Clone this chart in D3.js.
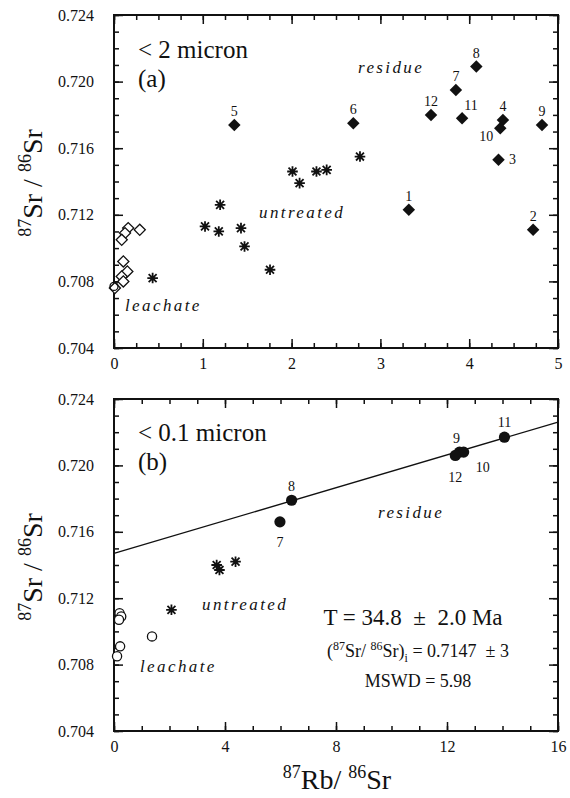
<!DOCTYPE html>
<html>
<head>
<meta charset="utf-8">
<script src="https://cdn.jsdelivr.net/npm/d3@7"></script>
<style>
  body { margin: 0; background: #fff; }
  svg text { font-family: 'Liberation Serif', 'Times New Roman', 'DejaVu Serif', serif; fill: #111; }
</style>
</head>
<body>
<div id="container"></div>
<script>
const width = 570,
  height = 798,
  left = 114,
  right = 558,
  serifFont = "'Liberation Serif', 'Times New Roman', 'DejaVu Serif', serif"

/* DATA */
// tick labels
const yTicks = [0.704, 0.708, 0.712, 0.716, 0.720, 0.724]
const aXTicks = [0, 1, 2, 3, 4, 5]
const bXTicks = [0, 4, 8, 12, 16]

// (a) < 2 micron
const aResidue = [
  { n: 1, x: 3.32, y: 0.7123 },
  { n: 2, x: 4.72, y: 0.7111 },
  { n: 3, x: 4.33, y: 0.7153 },
  { n: 4, x: 4.38, y: 0.7177 },
  { n: 5, x: 1.355, y: 0.7174 },
  { n: 6, x: 2.695, y: 0.7175 },
  { n: 7, x: 3.85, y: 0.7195 },
  { n: 8, x: 4.08, y: 0.7209 },
  { n: 9, x: 4.82, y: 0.7174 },
  { n: 10, x: 4.35, y: 0.7172 },
  { n: 11, x: 3.92, y: 0.7178 },
  { n: 12, x: 3.57, y: 0.7180 }
]
const aUntreated = [
  [0.435, 0.7082], [1.025, 0.7113], [1.18, 0.7110], [1.195, 0.7126],
  [1.43, 0.7112], [1.47, 0.7101], [1.757, 0.7087], [2.01, 0.7146],
  [2.09, 0.7139], [2.28, 0.7146], [2.395, 0.7147], [2.77, 0.7155]
]
const aLeachate = [
  [0.16, 0.7112], [0.29, 0.7111], [0.124, 0.7109], [0.087, 0.7105],
  [0.105, 0.7092], [0.15, 0.7086], [0.087, 0.7083], [0.105, 0.7080],
  [0.01, 0.7076]
]
const aLeachateCircle = [[0.0, 0.7077]]

// (b) < 0.1 micron
const bResidue = [
  { n: 7, x: 5.98, y: 0.7166 },
  { n: 8, x: 6.40, y: 0.7179 },
  { n: 9, x: 12.45, y: 0.7208 },
  { n: 10, x: 12.6, y: 0.7208 },
  { n: 11, x: 14.07, y: 0.7217 },
  { n: 12, x: 12.3, y: 0.7206 }
]
const bUntreated = [[2.07, 0.7113], [3.70, 0.7140], [3.80, 0.7137], [4.38, 0.7142]]
const bLeachate = [
  [0.2, 0.7111], [0.26, 0.7109], [0.18, 0.7107], [0.22, 0.7091],
  [0.11, 0.7085], [1.37, 0.7097]
]

// isochron fit
const isoInitial = 0.7147
const isoAge = 34.8 // Ma
const lambdaRb = 1.42e-11

// label offsets (px) from the marker, default is centred above
const aLabelPos = { 3: [14, 4], 10: [-14, 13], 11: [9, -8] }
const bLabelPos = { 7: [0, 25], 9: [-3, -9], 10: [19, 20], 11: [0, -10], 12: [0, 27] }

/* SVG */
const svg = d3.select("#container")
  .append("svg")
  .attr("width", width)
  .attr("height", height)
  .attr("font-family", serifFont)

const panels = [
  { top: 15, bottom: 348, xMax: 5, xTicks: aXTicks, xMinor: 0.25 },
  { top: 399, bottom: 731, xMax: 16, xTicks: bXTicks, xMinor: 1 }
]

panels.forEach(p => {
  p.x = d3.scaleLinear().domain([0, p.xMax]).range([left, right])
  p.y = d3.scaleLinear().domain([0.704, 0.724]).range([p.bottom, p.top])
  drawAxes(p)
})

function drawAxes(p) {
  const g = svg.append("g")
  const xMinor = d3.range(0, p.xMax + 1e-9, p.xMinor)
  const yMinor = d3.range(0, 21).map(i => 0.704 + i * 0.001)

  const axes = [
    [d3.axisBottom(p.x), `translate(0,${p.bottom})`, p.xTicks, xMinor, true],
    [d3.axisTop(p.x), `translate(0,${p.top})`, p.xTicks, xMinor, false],
    [d3.axisLeft(p.y), `translate(${left},0)`, yTicks, yMinor, true],
    [d3.axisRight(p.y), `translate(${right},0)`, yTicks, yMinor, false]
  ]
  axes.forEach(([ax, tr, major, minor, labels]) => {
    const isX = major === p.xTicks
    g.append("g")
      .attr("transform", tr)
      .call(ax.tickValues(minor).tickSize(-5).tickFormat(""))
      .call(s => s.select(".domain").remove())
    g.append("g")
      .attr("transform", tr)
      .call(ax.tickValues(major).tickSize(-9)
        .tickPadding(isX ? 10 : 20)
        .tickFormat(labels ? (isX ? d3.format("d") : d3.format(".3f")) : ""))
      .call(s => s.select(".domain").remove())
  })
  // d3 puts font-family="sans-serif" on each axis group
  g.selectAll("g").attr("font-family", serifFont).attr("font-size", 16)
  g.selectAll(".tick line").attr("stroke", "#111").attr("stroke-width", 1.5)
  g.selectAll(".tick text").attr("fill", "#111")

  g.append("rect")
    .attr("x", left).attr("y", p.top)
    .attr("width", right - left).attr("height", p.bottom - p.top)
    .attr("fill", "none").attr("stroke", "#111").attr("stroke-width", 2)
}

/* MARKERS */
const diamond = d3.symbol().type(d3.symbolSquare).size(78)
const openDiamond = d3.symbol().type(d3.symbolSquare).size(62)
const star = r => `M0,${-r}V${r}M${-r},0H${r}M${-r * 0.75},${-r * 0.75}L${r * 0.75},${r * 0.75}M${-r * 0.75},${r * 0.75}L${r * 0.75},${-r * 0.75}`

function drawStars(p, data) {
  svg.append("g").selectAll("path")
    .data(data)
    .join("path")
    .attr("transform", d => `translate(${p.x(d[0])},${p.y(d[1])})`)
    .attr("d", star(5.3))
    .attr("stroke", "#111")
    .attr("stroke-width", 1.8)
    .attr("fill", "none")
}

function drawLabels(p, data, pos) {
  svg.append("g").selectAll("text")
    .data(data)
    .join("text")
    .attr("x", d => p.x(d.x) + (pos[d.n] ? pos[d.n][0] : 0))
    .attr("y", d => p.y(d.y) + (pos[d.n] ? pos[d.n][1] : -9))
    .attr("text-anchor", "middle")
    .style("font-size", "14px")
    .text(d => d.n)
}

function italicNote(x, y, txt) {
  svg.append("text")
    .attr("x", x).attr("y", y)
    .style("font-size", "17px")
    .style("font-style", "italic")
    .style("letter-spacing", "2.4px")
    .text(txt)
}

// panel (a)
const pa = panels[0]
svg.append("g").selectAll("path")
  .data(aLeachate)
  .join("path")
  .attr("transform", d => `translate(${pa.x(d[0])},${pa.y(d[1])}) rotate(45)`)
  .attr("d", openDiamond())
  .attr("fill", "#fff")
  .attr("stroke", "#111")
  .attr("stroke-width", 1.3)
svg.append("g").selectAll("circle")
  .data(aLeachateCircle)
  .join("circle")
  .attr("cx", d => pa.x(d[0]))
  .attr("cy", d => pa.y(d[1]))
  .attr("r", 4)
  .attr("fill", "none")
  .attr("stroke", "#111")
  .attr("stroke-width", 1.3)
drawStars(pa, aUntreated)
svg.append("g").selectAll("path")
  .data(aResidue)
  .join("path")
  .attr("transform", d => `translate(${pa.x(d.x)},${pa.y(d.y)}) rotate(45)`)
  .attr("d", diamond())
  .attr("fill", "#111")
drawLabels(pa, aResidue, aLabelPos)

// panel (b)
const pb = panels[1]
const slope = Math.exp(lambdaRb * isoAge * 1e6) - 1
const lineGen = d3.line()
  .x(d => pb.x(d))
  .y(d => pb.y(isoInitial + slope * d))
svg.append("path")
  .datum([0, 16])
  .attr("d", lineGen)
  .attr("fill", "none")
  .attr("stroke", "#111")
  .attr("stroke-width", 1.4)

svg.append("g").selectAll("circle")
  .data(bLeachate)
  .join("circle")
  .attr("cx", d => pb.x(d[0]))
  .attr("cy", d => pb.y(d[1]))
  .attr("r", 4.6)
  .attr("fill", "#fff")
  .attr("stroke", "#111")
  .attr("stroke-width", 1.3)
drawStars(pb, bUntreated)
svg.append("g").selectAll("circle")
  .data(bResidue)
  .join("circle")
  .attr("cx", d => pb.x(d.x))
  .attr("cy", d => pb.y(d.y))
  .attr("r", 5.6)
  .attr("fill", "#111")
drawLabels(pb, bResidue, bLabelPos)

/* TEXT */
italicNote(358, 73, "residue")
italicNote(259, 218, "untreated")
italicNote(125, 311, "leachate")
italicNote(378, 518, "residue")
italicNote(202, 610, "untreated")
italicNote(140, 672, "leachate")

svg.append("text").attr("x", 138).attr("y", 58).style("font-size", "25px").text("< 2 micron")
svg.append("text").attr("x", 138).attr("y", 87).style("font-size", "25px").text("(a)")
svg.append("text").attr("x", 138).attr("y", 441).style("font-size", "25px").text("< 0.1 micron")
svg.append("text").attr("x", 138).attr("y", 470).style("font-size", "25px").text("(b)")

svg.append("text")
  .attr("x", 413).attr("y", 625)
  .attr("text-anchor", "middle")
  .attr("xml:space", "preserve")
  .style("font-size", "23px")
  .text("T = 34.8  ±  2.0 Ma")

const ratio = svg.append("text")
  .attr("x", 418).attr("y", 657)
  .attr("text-anchor", "middle")
  .attr("xml:space", "preserve")
  .style("font-size", "18px")
ratio.append("tspan").text("(")
ratio.append("tspan").attr("dy", -7).style("font-size", "12px").text("87")
ratio.append("tspan").attr("dy", 7).text("Sr/ ")
ratio.append("tspan").attr("dy", -7).style("font-size", "12px").text("86")
ratio.append("tspan").attr("dy", 7).text("Sr)")
ratio.append("tspan").attr("dy", 5).style("font-size", "12px").text("i")
ratio.append("tspan").attr("dy", -5).text(" = 0.7147  ± 3")

svg.append("text")
  .attr("x", 418).attr("y", 687)
  .attr("text-anchor", "middle")
  .style("font-size", "18px")
  .text("MSWD = 5.98")

// axis titles
function ratioTitle(sel, a, b, c, d) {
  sel.append("tspan").attr("dy", -11).style("font-size", "18px").text(a)
  sel.append("tspan").attr("dy", 11).text(b)
  sel.append("tspan").attr("dy", -11).style("font-size", "18px").text(c)
  sel.append("tspan").attr("dy", 11).text(d)
}

;[183, 567].forEach(cy => {
  const t = svg.append("text")
    .attr("transform", `translate(42,${cy}) rotate(-90)`)
    .attr("text-anchor", "middle")
    .attr("xml:space", "preserve")
    .style("font-size", "28px")
  ratioTitle(t, "87", "Sr / ", "86", "Sr")
})

const xt = svg.append("text")
  .attr("x", 337).attr("y", 789)
  .attr("text-anchor", "middle")
  .attr("xml:space", "preserve")
  .style("font-size", "28px")
ratioTitle(xt, "87", "Rb/ ", "86", "Sr")
</script>
</body>
</html>
